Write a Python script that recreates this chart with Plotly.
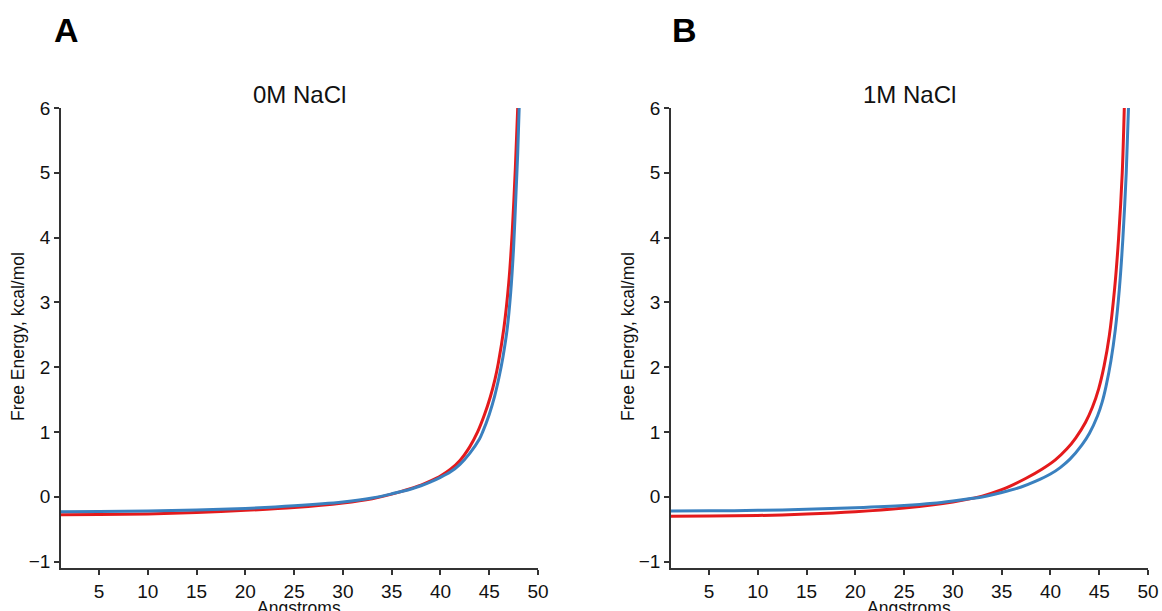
import plotly.graph_objects as go

# ---- data (Angstroms vs Free Energy, kcal/mol) ----
# Panel A: 0M NaCl
a_red_x = [1, 5, 10, 15, 20, 25, 30, 33, 35, 37, 38, 39, 40, 41, 42, 43, 43.81, 44.5, 45.11, 45.6, 45.93, 46.5, 47.0, 47.35, 47.68, 47.92]
a_red_y = [-0.28, -0.275, -0.265, -0.245, -0.21, -0.165, -0.095, -0.03, 0.04, 0.13, 0.18, 0.245, 0.32, 0.42, 0.56, 0.77, 1.0, 1.26, 1.54, 1.82, 2.06, 2.6, 3.3, 4.06, 5.08, 6.0]
a_blue_x = [1, 5, 10, 15, 20, 25, 30, 33, 35, 37, 38, 39, 40, 41, 42, 43, 44, 44.33, 45.0, 45.55, 46.0, 46.4, 46.85, 47.2, 47.5, 47.75, 47.92, 48.07]
a_blue_y = [-0.23, -0.228, -0.22, -0.205, -0.18, -0.14, -0.08, -0.02, 0.045, 0.12, 0.17, 0.23, 0.30, 0.38, 0.50, 0.67, 0.89, 1.0, 1.27, 1.55, 1.84, 2.15, 2.6, 3.15, 3.85, 4.7, 5.3, 6.0]

# Panel B: 1M NaCl
b_red_x = [1, 5, 10, 15, 20, 25, 28, 30, 32, 33, 35, 35.87, 37.5, 39.12, 40.5, 41.69, 42.6, 43.6, 44.3, 44.95, 45.5, 46.03, 46.57, 46.98, 47.36, 47.57]
b_red_y = [-0.30, -0.297, -0.29, -0.268, -0.232, -0.175, -0.125, -0.08, -0.025, 0.01, 0.11, 0.165, 0.285, 0.425, 0.57, 0.74, 0.91, 1.15, 1.38, 1.67, 2.02, 2.48, 3.2, 3.98, 5.0, 6.0]
b_blue_x = [1, 5, 10, 15, 20, 25, 28, 30, 32, 33, 35, 37, 38.5, 40, 41, 42, 43.23, 44.0, 44.83, 45.3, 45.69, 46.2, 46.65, 47.06, 47.43, 47.77, 48.0]
b_blue_y = [-0.22, -0.218, -0.21, -0.195, -0.17, -0.135, -0.10, -0.065, -0.025, -0.005, 0.065, 0.15, 0.24, 0.35, 0.45, 0.58, 0.80, 0.98, 1.25, 1.46, 1.70, 2.10, 2.58, 3.2, 4.0, 5.0, 6.0]

panel_titles = ["0M NaCl", "1M NaCl"]
panel_letters = ["A", "B"]
x_ticks = [5, 10, 15, 20, 25, 30, 35, 40, 45, 50]
y_ticks = [-1, 0, 1, 2, 3, 4, 5, 6]
x_title = "Angstroms"
y_title = "Free Energy, kcal/mol"

RED = "#e41a1c"
BLUE = "#3a80bf"
FONT = "Liberation Sans, Arial, Helvetica, sans-serif"
W, H = 1162, 611

fig = go.Figure()
series = [
    (a_red_x, a_red_y, RED, "x", "y"),
    (a_blue_x, a_blue_y, BLUE, "x", "y"),
    (b_red_x, b_red_y, RED, "x2", "y2"),
    (b_blue_x, b_blue_y, BLUE, "x2", "y2"),
]
for xs, ys, col, xa, ya in series:
    fig.add_trace(go.Scatter(x=xs, y=ys, mode="lines", xaxis=xa, yaxis=ya,
                             line=dict(color=col, width=3, shape="spline", smoothing=0.8),
                             showlegend=False, hoverinfo="skip"))

def px2x(p):
    return p / W

def py2y(p):
    return 1 - p / H

ydom = [py2y(568), py2y(108)]
axis_common = dict(showline=True, linecolor="#333", linewidth=1.5, ticks="outside",
                   ticklen=5, tickwidth=1.5, tickcolor="#333", showgrid=False,
                   zeroline=False, automargin=False,
                   tickfont=dict(family=FONT, size=19, color="#111"))

fig.update_layout(
    width=W, height=H, margin=dict(l=0, r=0, t=0, b=0),
    paper_bgcolor="white", plot_bgcolor="white",
    xaxis=dict(domain=[px2x(61), px2x(538)], range=[1.1, 50], tickvals=x_ticks, anchor="y", **axis_common),
    yaxis=dict(domain=ydom, range=[-1.1, 6], tickvals=y_ticks, anchor="x", **axis_common),
    xaxis2=dict(domain=[px2x(671), px2x(1148)], range=[1.1, 50], tickvals=x_ticks, anchor="y2", **axis_common),
    yaxis2=dict(domain=ydom, range=[-1.1, 6], tickvals=y_ticks, anchor="x2", **axis_common),
)

anns = []
for i, (cx, ylab_x, let_x) in enumerate([(299, 18, 66), (909, 628, 684)]):
    anns.append(dict(text=panel_titles[i], x=px2x(cx), y=py2y(94), xref="paper", yref="paper",
                     showarrow=False, xanchor="center", yanchor="middle",
                     font=dict(family=FONT, size=24, color="#111")))
    anns.append(dict(text="<b>" + panel_letters[i] + "</b>", x=px2x(let_x), y=py2y(30), xref="paper", yref="paper",
                     showarrow=False, xanchor="center", yanchor="middle",
                     font=dict(family=FONT, size=34, color="#000")))
    anns.append(dict(text=y_title, x=px2x(ylab_x), y=py2y(337), xref="paper", yref="paper",
                     showarrow=False, xanchor="center", yanchor="middle", textangle=-90,
                     font=dict(family=FONT, size=17.5, color="#111")))
    anns.append(dict(text=x_title, x=px2x(cx), y=py2y(608), xref="paper", yref="paper",
                     showarrow=False, xanchor="center", yanchor="middle",
                     font=dict(family=FONT, size=17.5, color="#111")))
fig.update_layout(annotations=anns)

fig.write_html("out.html", config={"displayModeBar": False},
               post_script="document.body.style.margin='0px';")
